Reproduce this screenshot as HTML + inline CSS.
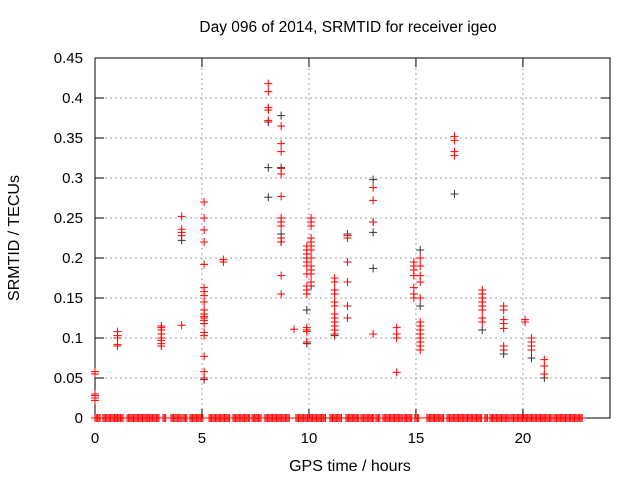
<!DOCTYPE html>
<html><head><meta charset="utf-8"><style>
body{margin:0;background:#fff}
svg{display:block;font-family:"Liberation Sans",sans-serif}
</style></head><body>
<svg id="chart" width="640" height="480" viewBox="0 0 640 480">
<rect width="640" height="480" fill="#fff"/>
<text x="348" y="32" font-size="15.5" text-anchor="middle">Day 096 of 2014, SRMTID for receiver igeo</text>
<g id="grid"></g>
<g id="axes"></g>
<g id="marks"></g>
<text x="350" y="471" font-size="16" text-anchor="middle">GPS time / hours</text>
<text transform="translate(19,238) rotate(-90)" font-size="16" text-anchor="middle">SRMTID / TECUs</text>
</svg>
<script>
const xTicks=[0,5,10,15,20];
const yTicks=[0,0.05,0.1,0.15,0.2,0.25,0.3,0.35,0.4,0.45];
const yTickLabels=["0","0.05","0.1","0.15","0.2","0.25","0.3","0.35","0.4","0.45"];
const redX=[0,0,0,0,0,0,
1.05,1.05,1.05,1.05,1.05,
3.1,3.1,3.1,3.1,3.1,3.1,3.1,3.1,
4.05,4.05,4.05,4.05,4.05,
5.1,5.1,5.1,5.1,5.1,5.1,5.1,5.1,5.1,5.1,5.1,5.1,5.1,5.1,5.1,5.1,5.1,5.1,5.1,5.1,
6.0,6.0,
8.1,8.1,8.1,8.1,8.1,
8.7,8.7,8.7,8.7,8.7,8.7,8.7,8.7,8.7,8.7,8.7,8.7,8.7,
9.3,
9.9,9.9,9.9,9.9,9.9,9.9,9.9,9.9,9.9,9.9,9.9,9.9,9.9,
10.1,10.1,10.1,10.1,10.1,10.1,10.1,10.1,10.1,10.1,10.1,10.1,
11.2,11.2,11.2,11.2,11.2,11.2,11.2,11.2,11.2,11.2,11.2,11.2,
11.8,11.8,11.8,11.8,11.8,11.8,
13.0,13.0,13.0,13.0,
14.1,14.1,14.1,14.1,
14.9,14.9,14.9,14.9,14.9,14.9,14.9,
15.2,15.2,15.2,15.2,15.2,15.2,15.2,15.2,15.2,15.2,15.2,15.2,15.2,
16.8,16.8,16.8,16.8,
18.1,18.1,18.1,18.1,18.1,18.1,18.1,18.1,
19.1,19.1,19.1,19.1,19.1,19.1,19.1,
20.1,20.1,
20.4,20.4,20.4,20.4,
21.0,21.0,21.0];
const redY=[0.058,0.055,0.03,0.028,0.025,0.022,
0.108,0.103,0.1,0.092,0.09,
0.115,0.113,0.11,0.105,0.1,0.097,0.093,0.09,
0.252,0.236,0.232,0.228,0.116,
0.27,0.25,0.235,0.22,0.192,0.163,0.158,0.153,0.145,0.135,0.13,0.127,0.125,0.122,0.118,0.107,0.103,0.077,0.058,0.05,
0.198,0.195,
0.418,0.408,0.388,0.385,0.372,
0.365,0.343,0.333,0.312,0.305,0.277,0.25,0.245,0.24,0.225,0.22,0.178,0.155,
0.111,
0.215,0.21,0.205,0.195,0.19,0.18,0.165,0.16,0.155,0.113,0.11,0.108,0.095,
0.25,0.245,0.24,0.225,0.22,0.215,0.21,0.2,0.19,0.185,0.18,0.17,
0.175,0.17,0.16,0.155,0.145,0.14,0.13,0.125,0.12,0.115,0.11,0.105,
0.228,0.225,0.195,0.17,0.14,0.125,
0.288,0.272,0.245,0.105,
0.113,0.105,0.1,0.057,
0.195,0.19,0.185,0.178,0.163,0.155,0.15,
0.2,0.19,0.178,0.17,0.15,0.12,0.115,0.11,0.105,0.1,0.095,0.09,0.085,
0.352,0.347,0.333,0.328,
0.16,0.155,0.15,0.145,0.14,0.135,0.125,0.12,
0.14,0.135,0.123,0.118,0.112,0.09,0.085,
0.123,0.12,
0.1,0.095,0.09,0.085,
0.073,0.065,0.055];
const blackX=[0,4.05,5.1,8.1,8.1,8.1,8.7,8.7,8.7,8.7,9.9,9.9,9.9,10.1,10.1,11.2,11.8,13.0,13.0,13.0,13.0,15.2,15.2,16.8,18.1,19.1,20.4,21.0];
const blackY=[0.03,0.222,0.048,0.37,0.313,0.276,0.378,0.313,0.23,0.22,0.2,0.135,0.093,0.185,0.165,0.103,0.23,0.298,0.245,0.232,0.187,0.21,0.14,0.28,0.11,0.08,0.075,0.05];
const zeroStart=[0,0.37,1.07,1.5,2.57,3.18,3.55,4.11,4.44,5.33,6.45,7.34,7.94,9.39,10.98,11.73,12.43,13.13,13.46,14.44,14.95,15.51,16.45,18.22,18.46,19.44,21.45];
const zeroEnd=[0.28,1.03,1.31,2.52,3.04,3.32,4.07,4.3,5.09,6.31,7.24,7.8,9.11,10.79,11.54,12.38,13.08,13.32,14.39,14.81,15.14,16.31,18.08,18.36,19.39,21.36,22.8];
const zeroStep=0.06;

const L=95,R=610,T=58,B=418,XMAX=24.07,YMAX=0.45;
const xs=v=>L+v/XMAX*(R-L);
const ys=v=>B-v/YMAX*(B-T);
const NS="http://www.w3.org/2000/svg";
function mk(tag,attrs,parent){const e=document.createElementNS(NS,tag);for(const k in attrs)e.setAttribute(k,attrs[k]);parent.appendChild(e);return e;}
const grid=document.getElementById('grid'),axes=document.getElementById('axes'),marks=document.getElementById('marks');
yTicks.forEach((t,i)=>{const y=ys(t);
 if(i>0&&i<yTicks.length-1){const g=mk('line',{x1:L,x2:R,y1:y,y2:y,stroke:'#a0a0a0','stroke-dasharray':'2,3'},grid);
 
 }
 mk('line',{x1:L,x2:L+9,y1:y,y2:y,stroke:'#000'},axes);
 mk('line',{x1:R,x2:R-9,y1:y,y2:y,stroke:'#000'},axes);
 const t2=mk('text',{x:L-12,y:y+5,'font-size':15,'text-anchor':'end'},axes);t2.textContent=yTickLabels[i];
 
 
});
xTicks.forEach(t=>{const x=xs(t);
 if(t>0){const g=mk('line',{x1:x,x2:x,y1:T,y2:B,stroke:'#a0a0a0','stroke-dasharray':'2,3'},grid);
 
 }
 mk('line',{x1:x,x2:x,y1:B,y2:B-9,stroke:'#000'},axes);
 mk('line',{x1:x,x2:x,y1:T,y2:T+9,stroke:'#000'},axes);
 const t2=mk('text',{x:x,y:B+25,'font-size':15,'text-anchor':'middle'},axes);t2.textContent=String(t);
 
 
});
const box=mk('rect',{x:L,y:T,width:R-L,height:B-T,fill:'none',stroke:'#000'},axes);


function plus(x,y,c){const p=mk('path',{d:`M${xs(x)-4},${ys(y)}h8M${xs(x)},${ys(y)-4}v8`,stroke:c,'stroke-width':1,fill:'none'},marks);
 
 }
blackX.forEach((x,i)=>plus(x,blackY[i],'#333'));
redX.forEach((x,i)=>plus(x,redY[i],'#f00'));
zeroStart.forEach((s,i)=>{for(let x=s;x<=zeroEnd[i]+1e-9;x+=zeroStep)plus(x,0,'#f00');});
</script>
</body></html>
